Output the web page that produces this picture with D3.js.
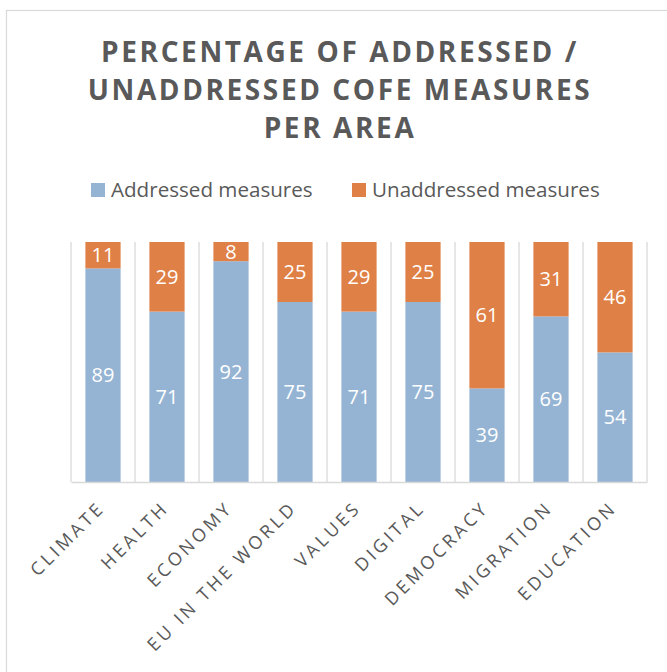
<!DOCTYPE html>
<html>
<head>
<meta charset="utf-8">
<script src="https://cdn.jsdelivr.net/npm/d3@7"></script>
<style>
  html, body { margin: 0; padding: 0; background: #ffffff; }
  svg { display: block; font-family: "Open Sans", sans-serif; }
</style>
</head>
<body>
<svg id="chart" width="667" height="672"></svg>
<script>
const categories = ["CLIMATE", "HEALTH", "ECONOMY", "EU IN THE WORLD", "VALUES", "DIGITAL", "DEMOCRACY", "MIGRATION", "EDUCATION"];
const addressed = [89, 71, 92, 75, 71, 75, 39, 69, 54];
const unaddressed = [11, 29, 8, 25, 29, 25, 61, 31, 46];
const seriesNames = ["Addressed measures", "Unaddressed measures"];
const titleLines = ["PERCENTAGE OF ADDRESSED /", "UNADDRESSED COFE MEASURES", "PER AREA"];
const yTicks = [0, 100];

const colors = ["#95B4D3", "#DF8046"];
const textGray = "#595959";
const gridGray = "#d9d9d9";

const svg = d3.select("#chart");

// outer frame
svg.append("rect")
  .attr("x", 6.5).attr("y", 10.5)
  .attr("width", 700).attr("height", 700)
  .attr("fill", "#fff").attr("stroke", gridGray).attr("stroke-width", 1.2);

// title
const title = svg.append("text")
  .attr("text-anchor", "middle")
  .attr("fill", textGray)
  .style("font-weight", "bold")
  .style("font-size", "28px")
  .style("letter-spacing", "2.6px");
titleLines.forEach((t, i) => {
  title.append("tspan").attr("x", 340).attr("y", 62 + i * 38).text(t);
});

// legend
const legendX = [91, 352];
seriesNames.forEach((name, i) => {
  const g = svg.append("g").attr("transform", `translate(${legendX[i]},183)`);
  g.append("rect").attr("width", 14).attr("height", 14).attr("fill", colors[i]);
  g.append("text").attr("x", 20).attr("y", 14)
    .attr("fill", textGray).style("font-size", "20.6px").text(name);
});

// scales
const x = d3.scaleBand().domain(categories).range([71, 647]).paddingInner(0.45).paddingOuter(0.225);
const y = d3.scaleLinear().domain([0, 100]).range([482, 242]);

// vertical gridlines at category boundaries
const boundaries = d3.range(categories.length + 1).map(i => x.range()[0] + i * x.step());
svg.append("g").selectAll("line").data(boundaries).join("line")
  .attr("x1", d => d).attr("x2", d => d)
  .attr("y1", y(yTicks[1])).attr("y2", y(yTicks[0]))
  .attr("stroke", gridGray).attr("stroke-width", 1.3);

// stacked data
const rows = categories.map((c, i) => ({ cat: c, a: addressed[i], u: unaddressed[i] }));
const stack = d3.stack().keys(["a", "u"])(rows);

const layers = svg.append("g").selectAll("g").data(stack).join("g")
  .attr("fill", (d, i) => colors[i]);
layers.selectAll("rect").data(d => d).join("rect")
  .attr("x", d => x(d.data.cat))
  .attr("width", x.bandwidth())
  .attr("y", d => y(d[1]))
  .attr("height", d => y(d[0]) - y(d[1]));

// value labels
layers.selectAll("text").data(d => d).join("text")
  .attr("x", d => x(d.data.cat) + x.bandwidth() / 2)
  .attr("y", d => (y(d[0]) + y(d[1])) / 2)
  .attr("dy", "0.36em")
  .attr("text-anchor", "middle")
  .attr("fill", "#ffffff")
  .style("font-size", "20px")
  .text(d => d[1] - d[0]);

// x axis
const xAxis = svg.append("g").attr("transform", `translate(0,${y(0)})`)
  .call(d3.axisBottom(x).tickSize(0).tickSizeOuter(0));
xAxis.attr("font-size", null).attr("font-family", null);
xAxis.select(".domain").attr("stroke", gridGray).attr("stroke-width", 1.5);
xAxis.selectAll("text")
  .attr("y", null).attr("dy", null)
  .attr("transform", "translate(3,27) rotate(-45)")
  .style("text-anchor", "end")
  .style("font-family", "'Open Sans', sans-serif")
  .style("font-size", "18px")
  .style("letter-spacing", "3.3px")
  .attr("fill", textGray);
</script>
</body>
</html>
